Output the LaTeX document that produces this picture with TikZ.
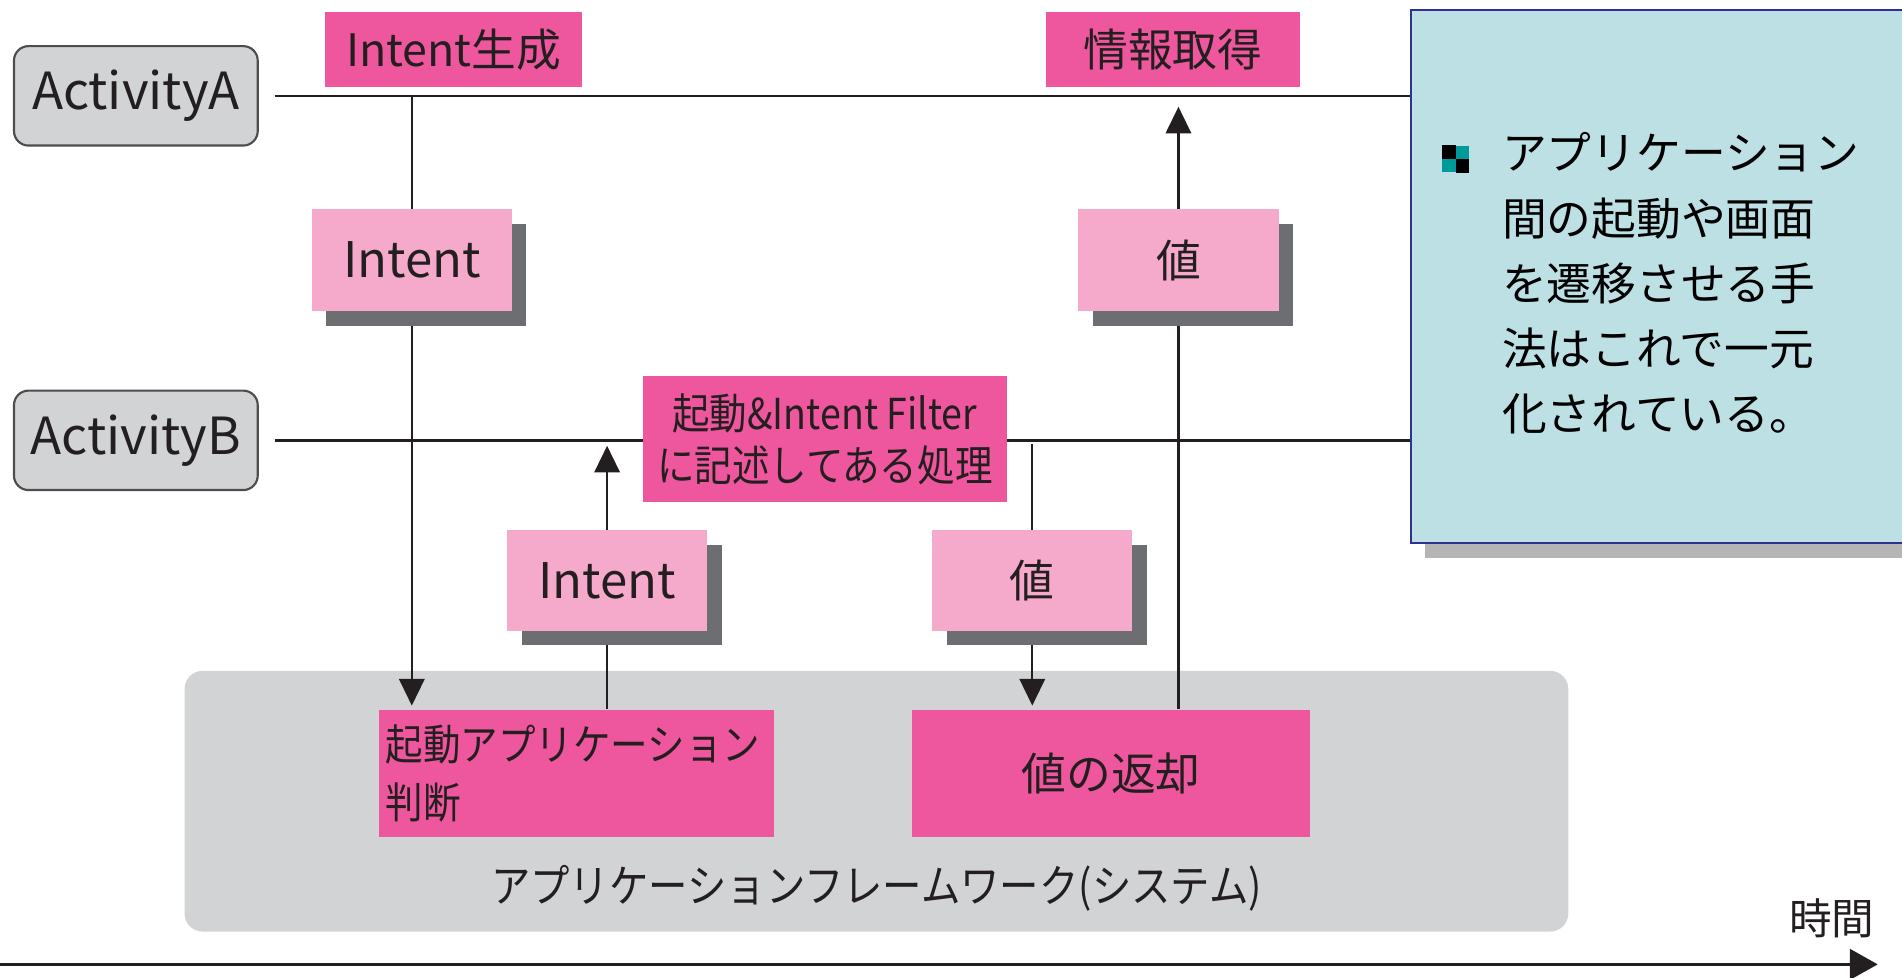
\documentclass[tikz,border=0pt]{standalone}
\usepackage{fontspec}
\setmainfont{Noto Sans CJK JP}
\newfontfamily\narrowjp{Noto Sans CJK JP}[FakeStretch=0.88]
\usetikzlibrary{positioning, arrows.meta, shadows}

\definecolor{darkpink}{HTML}{EE579D}
\definecolor{lightpink}{HTML}{F5A9CB}
\definecolor{boxshadow}{HTML}{6D6E71}
\definecolor{sysgray}{HTML}{D1D3D4}
\definecolor{inkdark}{HTML}{231F20}
\definecolor{notefill}{HTML}{BCE0E3}
\definecolor{noteborder}{HTML}{2E3192}
\definecolor{noteshadow}{HTML}{B5B5B5}
\definecolor{bulletteal}{HTML}{009A9A}

\pgfdeclarelayer{background}
\pgfdeclarelayer{wires}
\pgfsetlayers{background,wires,main}

\tikzset{
  activity/.style={draw=inkdark!80, line width=1pt, fill=sysgray, rounded corners=0.24cm,
    minimum width=4.02cm, minimum height=1.64cm, inner sep=0pt, text=inkdark,
    font=\fontsize{24}{28}\selectfont},
  darkbox/.style={fill=darkpink, inner sep=0pt, text=inkdark, font=\fontsize{21}{25}\selectfont},
  msgbox/.style={fill=lightpink, inner sep=0pt, text=inkdark,
    minimum width=3.3cm, minimum height=1.68cm, font=\fontsize{23}{27}\selectfont,
    drop shadow={shadow xshift=0.24cm, shadow yshift=-0.24cm, fill=boxshadow, opacity=1}},
  lifeline/.style={draw=inkdark, line width=1.2pt},
  flow/.style={draw=inkdark, line width=1pt, -{Triangle[length=0.44cm, width=0.42cm]}},
  timeline/.style={draw=inkdark, line width=1.6pt, -{Triangle[length=0.46cm, width=0.5cm]}},
}

\begin{document}
\begin{tikzpicture}[x=0.02cm, y=-0.02cm]
\useasboundingbox (0,0) rectangle (1568,806);

% activities
\node[activity] (actA) at (112,79) {ActivityA};
\node[activity] (actB) at (112,363) {ActivityB};

% framework
\begin{pgfonlayer}{background}
\node[fill=sysgray, rounded corners=0.3cm, minimum width=22.82cm, minimum height=4.3cm] (system) at (722.5,660.5) {};
\end{pgfonlayer}
\node[inner sep=0pt, text=inkdark, font=\narrowjp\fontsize{21}{25}\selectfont, above=0.33cm of system.south] (sysLabel) {アプリケーションフレームワーク(システム)};

% processing steps
\node[darkbox, minimum width=4.24cm, minimum height=1.24cm] (genIntent) at (374,41) {Intent生成};
\node[darkbox, minimum width=4.2cm, minimum height=1.24cm] (getInfo) at (967,41) {情報取得};
\node[darkbox, minimum width=6cm, minimum height=2.08cm, align=center,
  font=\narrowjp\fontsize{20}{24.5}\selectfont] (filter) at (680,362) {起動\&Intent Filter\\に記述してある処理};
\node[darkbox, minimum width=6.52cm, minimum height=2.1cm, inner xsep=0.12cm, text width=6.28cm,
  align=left, font=\narrowjp\fontsize{20}{27}\selectfont] (judge) at (475,637.5) {起動アプリケーション\\判断};
\node[darkbox, minimum width=6.56cm, minimum height=2.1cm] (retVal) at (916,637.5) {値の返却};

% messages
\node[msgbox] (intentA) at (339.5,214.5) {Intent};
\node[msgbox, font=\fontsize{21}{25}\selectfont] (valA) at (971.5,214.5) {値};
\node[msgbox, minimum height=1.66cm] (intentB) at (500.5,478.5) {Intent};
\node[msgbox, minimum height=1.66cm, font=\fontsize{21}{25}\selectfont] (valB) at (851,478.5) {値};

% note
\node[draw=noteborder, line width=1pt, fill=notefill, minimum width=8.54cm, minimum height=8.8cm,
  drop shadow={shadow xshift=0.24cm, shadow yshift=-0.24cm, fill=noteshadow, opacity=1}] (note) at (1376.5,228) {};
\node[fill=bulletteal, minimum size=0.44cm, inner sep=0pt] (bullet) at (1200,131) {};
\fill[black] (bullet.north west) rectangle (bullet.center);
\fill[black] (bullet.center) rectangle (bullet.south east);
\node[anchor=north west, align=left, inner sep=0pt, font=\fontsize{21}{30.6}\selectfont] (noteText) at (1238,109)
  {アプリケーション\\間の起動や画面\\を遷移させる手\\法はこれで一元\\化されている。};

% time
\coordinate (tStart) at (0,795);
\coordinate (tEnd) at (1548,795);
\draw[timeline] (tStart) -- (tEnd);
\node[inner sep=0pt, text=inkdark, font=\fontsize{20}{24}\selectfont] (timeLabel) at (1510,757) {時間};

\begin{pgfonlayer}{wires}
\draw[lifeline, shorten <=0.26cm] (actA.east) -- (note.west |- actA.east);
\draw[lifeline, shorten <=0.26cm] (actB.east) -- (note.west |- actB.east);
\draw[flow, shorten >=0.06cm] (intentA |- actA) -- (intentA |- judge.north);
\draw[flow, shorten >=0.09cm] (intentB |- judge.north) -- (intentB |- actB);
\draw[flow, shorten <=0.06cm, shorten >=0.06cm] (valB |- actB) -- (valB |- retVal.north);
\draw[flow, shorten >=0.18cm] (valA |- retVal.north) -- (valA |- actA);
\end{pgfonlayer}
\end{tikzpicture}
\end{document}
